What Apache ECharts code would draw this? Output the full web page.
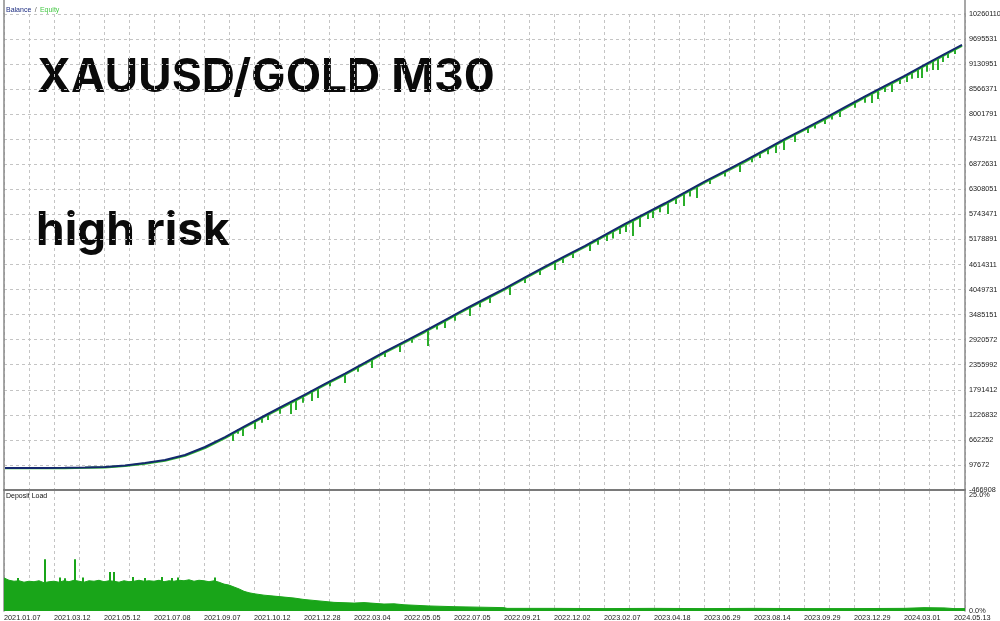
<!DOCTYPE html>
<html>
<head>
<meta charset="utf-8">
<script src="https://cdn.jsdelivr.net/npm/echarts@6/dist/echarts.min.js"></script>
<style>
html,body{margin:0;padding:0;background:#fff;}
#chart{width:1000px;height:621px;}
</style>
</head>
<body>
<div id="chart"></div>
<script>
// ---- data ----
var xDates = ['2021.01.07','2021.03.12','2021.05.12','2021.07.08','2021.09.07','2021.10.12','2021.12.28','2022.03.04','2022.05.05','2022.07.05','2022.09.21','2022.12.02','2023.02.07','2023.04.18','2023.06.29','2023.08.14','2023.09.29','2023.12.29','2024.03.01','2024.05.13'];
var yTicks = [-466908, 97672, 662252, 1226832, 1791412, 2355992, 2920572, 3485151, 4049731, 4614311, 5178891, 5743471, 6308051, 6872631, 7437211, 8001791, 8566371, 9130951, 9695531, 10260110];
var loadTicks = [0, 25];
var dealMax = 1922;

// [deal number, balance]
var balance = [[2,29000],[42,29000],[82,30000],[122,33000],[162,40000],[202,51000],[242,85000],[282,142000],[322,209000],[362,322000],[402,502000],[442,727000],[482,975000],[522,1212000],[562,1449000],[602,1685000],[642,1925000],[682,2158000],[722,2404000],[762,2652000],[802,2884000],[842,3118000],[882,3364000],[922,3610000],[962,3843000],[1002,4076000],[1042,4323000],[1082,4568000],[1122,4802000],[1162,5036000],[1202,5282000],[1242,5528000],[1282,5761000],[1322,5995000],[1362,6241000],[1402,6488000],[1442,6720000],[1482,6954000],[1522,7200000],[1562,7446000],[1602,7679000],[1642,7912000],[1682,8159000],[1722,8405000],[1762,8638000],[1802,8872000],[1842,9118000],[1882,9364000],[1916,9562000]];

// [deal number, equity]
var equity = [[2,27000],[42,26000],[82,26000],[122,28000],[162,34000],[202,44000],[242,74000],[282,128000],[322,193000],[362,304000],[402,482000],[442,706000],[482,953000],[522,1192000],[562,1428000],[602,1664000],[642,1904000],[682,2136000],[722,2383000],[762,2630000],[802,2863000],[842,3096000],[882,3342000],[922,3588000],[962,3822000],[1002,4054000],[1042,4302000],[1082,4546000],[1122,4781000],[1162,5014000],[1202,5260000],[1242,5506000],[1282,5740000],[1322,5973000],[1362,6219000],[1402,6466000],[1442,6699000],[1482,6932000],[1522,7178000],[1562,7424000],[1602,7658000],[1642,7890000],[1682,8137000],[1722,8383000],[1762,8616000],[1802,8850000],[1842,9096000],[1882,9342000],[1916,9545000]];

// equity drawdown dips: [deal number, equity before dip, equity low]
var equityDips = [[458,840000,637000],[468,900000,800000],[478,953000,750000],[502,1110000,908000],[516,1160000,1050000],[528,1246000,1111000],[552,1380000,1250000],[574,1516000,1246000],[584,1561000,1336000],[598,1660000,1500000],[616,1742000,1539000],[628,1832000,1606000],[652,1985000,1870000],[682,2160000,1944000],[708,2320000,2200000],[736,2463000,2282000],[762,2645000,2530000],[792,2801000,2643000],[816,2960000,2850000],[848,3139000,2778000],[866,3270000,3150000],[882,3364000,3184000],[902,3490000,3350000],[932,3657000,3454000],[952,3780000,3650000],[972,3883000,3747000],[1012,4130000,3928000],[1042,4323000,4200000],[1072,4500000,4380000],[1102,4671000,4491000],[1118,4780000,4650000],[1138,4897000,4761000],[1172,5099000,4919000],[1188,5200000,5060000],[1206,5302000,5145000],[1218,5380000,5200000],[1232,5460000,5302000],[1244,5528000,5347000],[1258,5618000,5257000],[1272,5685000,5460000],[1288,5798000,5640000],[1298,5843000,5663000],[1312,5940000,5790000],[1328,6023000,5753000],[1344,6130000,5980000],[1360,6226000,5933000],[1372,6300000,6150000],[1386,6384000,6114000],[1412,6519000,6429000],[1442,6720000,6600000],[1472,6880000,6700000],[1496,7040000,6920000],[1512,7128000,7015000],[1528,7235000,7100000],[1544,7308000,7128000],[1560,7421000,7195000],[1582,7556000,7376000],[1608,7714000,7578000],[1622,7800000,7680000],[1642,7916000,7781000],[1656,8000000,7880000],[1672,8097000,7939000],[1702,8280000,8150000],[1722,8400000,8260000],[1736,8480000,8255000],[1748,8547000,8345000],[1762,8640000,8500000],[1776,8728000,8502000],[1792,8820000,8680000],[1806,8886000,8728000],[1816,8960000,8800000],[1828,9043000,8818000],[1836,9088000,8818000],[1846,9140000,8960000],[1858,9224000,8998000],[1868,9291000,8998000],[1878,9336000,9179000],[1888,9390000,9270000],[1902,9471000,9359000]];

// deposit load profile, % : [deal number, load]
var depositLoad = [[0,6.9],[10,6.4],[20,6.2],[30,6.3],[40,6.0],[50,6.2],[60,6.1],[70,6.3],[80,5.9],[90,6.1],[100,6.2],[110,6.0],[120,6.3],[130,6.1],[140,6.4],[150,6.2],[160,6.0],[170,6.3],[180,6.2],[190,6.4],[200,6.1],[210,6.3],[220,6.2],[230,6.0],[240,6.3],[250,6.1],[260,6.2],[270,6.4],[280,6.2],[290,6.3],[300,6.2],[310,6.4],[320,6.1],[330,6.3],[340,6.2],[350,6.4],[360,6.3],[370,6.5],[380,6.2],[390,6.4],[400,6.3],[410,6.1],[420,6.3],[430,6.0],[440,5.6],[450,5.4],[460,5.0],[470,4.6],[480,4.1],[490,3.8],[500,3.6],[520,3.3],[540,3.1],[560,2.9],[580,2.7],[600,2.4],[630,2.1],[660,1.8],[700,1.65],[720,1.75],[740,1.6],[760,1.45],[780,1.5],[800,1.3],[850,1.05],[900,0.9],[950,0.8],[1000,0.7],[1006,0.55],[1100,0.55],[1200,0.5],[1300,0.55],[1400,0.5],[1500,0.55],[1600,0.5],[1700,0.5],[1800,0.55],[1840,0.7],[1880,0.65],[1900,0.5],[1922,0.5]];

// deposit load spikes, % : [deal number, load]
var loadSpikes = [[28,6.9],[82,10.8],[112,7.0],[122,6.8],[142,10.8],[158,7.0],[212,8.1],[220,8.1],[258,7.1],[282,6.9],[316,7.1],[336,6.9],[348,7.0],[422,7.0]];

// ---- styling ----
var gridLine = {show:true, lineStyle:{color:'#c4c4c4', type:[3,3], width:1}};
var border = {show:true, lineStyle:{color:'#8a8a8a', width:1.5}};
var lblFont = {fontFamily:'Liberation Sans', fontSize:7.3, color:'#222'};

var chart = echarts.init(document.getElementById('chart'));
chart.setOption({
  backgroundColor:'#ffffff',
  animation:false,
  grid:[
    {left:4, right:35, top:14, height:476, outerBoundsMode:'none', containLabel:false},
    {left:4, right:35, top:491, height:120, outerBoundsMode:'none', containLabel:false}
  ],
  xAxis:[
    {type:'value', gridIndex:0, min:0, max:dealMax, interval:50,
     axisLabel:{show:false}, axisTick:{show:false}, splitLine:gridLine,
     axisLine:{show:true, onZero:false, lineStyle:{color:'#7a7a7a', width:2}}},
    {type:'value', gridIndex:1, min:0, max:dealMax, interval:50,
     axisTick:{show:false}, splitLine:gridLine, axisLine:{show:false},
     axisLabel:Object.assign({show:true, align:'left', margin:3, showMinLabel:true, showMaxLabel:true,
       formatter:function(v){ return (v % 100 === 0 && xDates[v/100]) ? xDates[v/100] : ''; }}, lblFont)}
  ],
  yAxis:[
    {type:'value', gridIndex:0, position:'left', min:yTicks[0], max:yTicks[yTicks.length-1],
     axisLabel:{show:false}, axisTick:{show:false}, splitLine:{show:false}, axisLine:border},
    {type:'value', gridIndex:0, position:'right', min:0, max:yTicks.length-1, interval:1,
     axisTick:{show:false}, splitLine:gridLine, axisLine:border,
     axisLabel:Object.assign({show:true, margin:4, formatter:function(v){ return String(yTicks[Math.round(v)]); }}, lblFont)},
    {type:'value', gridIndex:1, position:'left', min:loadTicks[0], max:loadTicks[1],
     axisLabel:{show:false}, axisTick:{show:false}, splitLine:{show:false}, axisLine:border},
    {type:'value', gridIndex:1, position:'right', min:loadTicks[0], max:loadTicks[1], interval:25,
     axisTick:{show:false}, splitLine:{show:false}, axisLine:border,
     axisLabel:Object.assign({show:true, margin:4, verticalAlignMaxLabel:'top',
       formatter:function(v){ return v.toFixed(1) + '%'; }}, lblFont)}
  ],
  series:[
    {type:'line', name:'Equity', xAxisIndex:0, yAxisIndex:0, data:equity, showSymbol:false,
     lineStyle:{color:'#2fb82f', width:2.2}, z:2},
    {type:'custom', name:'EquityDips', xAxisIndex:0, yAxisIndex:0, data:equityDips, z:2,
     encode:{x:0, y:[1,2]},
     renderItem:function(params, api){
       var p1 = api.coord([api.value(0), api.value(1)]);
       var p2 = api.coord([api.value(0), api.value(2)]);
       return {type:'line', shape:{x1:p1[0], y1:p1[1], x2:p2[0], y2:p2[1]},
               style:{stroke:'#2aae2a', lineWidth:2}};
     }},
    {type:'line', name:'Balance', xAxisIndex:0, yAxisIndex:0, data:balance, showSymbol:false,
     lineStyle:{color:'#14286e', width:2}, z:3},
    {type:'line', name:'Deposit Load', xAxisIndex:1, yAxisIndex:2, data:depositLoad, showSymbol:false,
     lineStyle:{color:'#19a519', width:1}, areaStyle:{color:'#19a519', opacity:1}, z:2},
    {type:'bar', name:'Load spikes', xAxisIndex:1, yAxisIndex:2, data:loadSpikes, barWidth:2,
     itemStyle:{color:'#19a519'}, z:2}
  ],
  graphic:[
    {type:'line', shape:{x1:4, y1:0, x2:4, y2:14}, style:{stroke:'#8a8a8a', lineWidth:1.5}},
    {type:'line', shape:{x1:965, y1:0, x2:965, y2:14}, style:{stroke:'#8a8a8a', lineWidth:1.5}},
    {type:'text', left:6, top:4, style:{
      text:'{b|Balance} {s|/} {e|Equity}',
      rich:{
        b:{fill:'#1c2c80', fontFamily:'Liberation Sans', fontSize:7},
        s:{fill:'#555', fontFamily:'Liberation Sans', fontSize:7},
        e:{fill:'#45c845', fontFamily:'Liberation Sans', fontSize:7}
      }}},
    {type:'text', left:6, top:493, style:{text:'Deposit Load', fill:'#111', fontFamily:'Liberation Sans', fontSize:7}},
    {type:'text', left:37, top:55, style:{text:'XAUUSD/GOLD M30', fill:'#0a0a0a', fontFamily:'Inter', fontWeight:'bold', fontSize:46}},
    {type:'text', left:36, top:208, style:{text:'high risk', fill:'#0a0a0a', fontFamily:'Inter', fontWeight:'bold', fontSize:46}}
  ]
});
</script>
</body>
</html>
